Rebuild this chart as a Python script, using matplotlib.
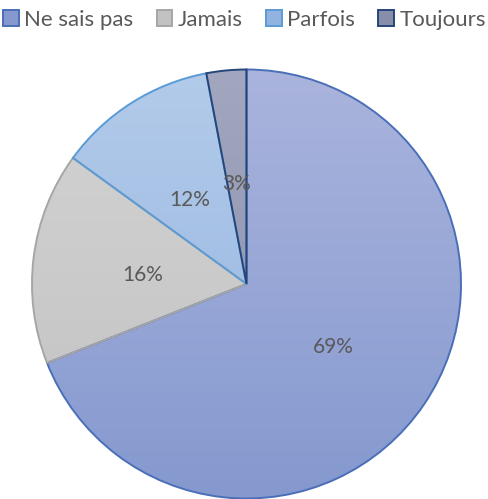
import numpy as np
import matplotlib.pyplot as plt
from matplotlib.patches import Patch
from matplotlib.colors import LinearSegmentedColormap

# Data
labels = ['Ne sais pas', 'Jamais', 'Parfois', 'Toujours']
values = [69, 16, 12, 3]
pct_labels = ['69%', '16%', '12%', '3%']

# Styling: gradient (top, bottom) and edge colour per slice
grad_top = ['#aab4dd', '#d3d3d3', '#b3cbea', '#a2a7bf']
grad_bot = ['#8599cf', '#c2c2c2', '#92b3df', '#878ea9']
edge_colors = ['#4a6fb8', '#a6a6a6', '#5b9bd5', '#26457a']
text_color = '#595959'

plt.rcParams['font.family'] = ['Lato', 'DejaVu Sans']

fig = plt.figure(figsize=(4.89, 4.99), dpi=100)
ax = fig.add_axes([32 / 489, 0.5 / 499, 429 / 489, 429 / 499])

wedges, _ = ax.pie(values, startangle=90, counterclock=False,
                   colors=grad_bot, radius=1.0,
                   wedgeprops=dict(linewidth=1.4))

# Vertical gradient fill, clipped to each wedge
ramp = np.linspace(0, 1, 256).reshape(-1, 1)
for w, top, bot, ec in zip(wedges, grad_top, grad_bot, edge_colors):
    w.set_facecolor('none')
    w.set_edgecolor(ec)
    w.set_zorder(3)
    cmap = LinearSegmentedColormap.from_list('g', [top, bot])
    im = ax.imshow(ramp, cmap=cmap, extent=[-1, 1, -1, 1], origin='upper',
                   aspect='auto', zorder=2, interpolation='bilinear')
    im.set_clip_path(w)

# Percentage labels
dist = 0.49
total = sum(values)
start = 90.0
for v, txt in zip(values, pct_labels):
    mid = np.deg2rad(start - v / total * 360 / 2)
    ax.text(dist * np.cos(mid), dist * np.sin(mid) - 0.02, txt, ha='center', va='center',
            fontsize=15, color=text_color, zorder=5)
    start -= v / total * 360

ax.set_xlim(-1, 1)
ax.set_ylim(-1, 1)
ax.set_aspect('auto')
ax.axis('off')

handles = [Patch(facecolor=c, edgecolor=e, linewidth=1.4)
           for c, e in zip(grad_bot, edge_colors)]
fig.legend(handles, labels, loc='upper center', bbox_to_anchor=(0.5, 1.007),
           ncol=4, frameon=False, fontsize=16, labelcolor=text_color,
           handlelength=0.7, handleheight=0.7, handletextpad=0.25,
           columnspacing=1.05, borderaxespad=0.2)

fig.savefig('out.png', dpi=100)
